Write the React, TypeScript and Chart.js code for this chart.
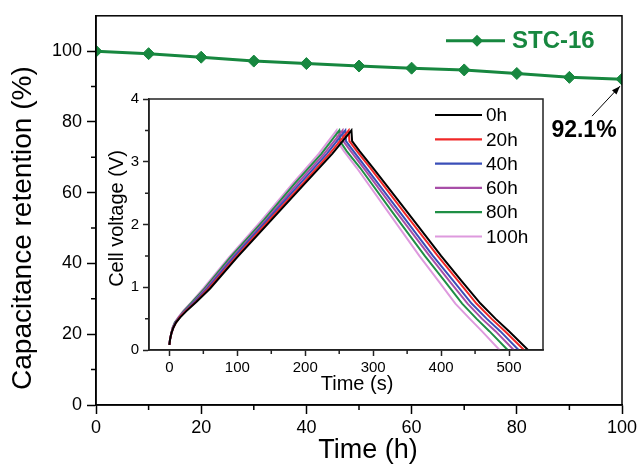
import React, { useEffect, useRef } from 'react';
import { Chart, registerables } from 'chart.js';

Chart.register(...registerables);

const FONT = '"Liberation Sans", Arial, Helvetica, sans-serif';

// ---- main chart data ----
const retentionHours = [0, 10, 20, 30, 40, 50, 60, 70, 80, 90, 100];
const retentionValues = [100, 99.3, 98.3, 97.2, 96.5, 95.8, 95.2, 94.7, 93.7, 92.6, 92.1];
const retentionLabel = 'STC-16';
const mainMinorX = [10, 30, 50, 70, 90];
const mainMinorY = [10, 30, 50, 70, 90];

// ---- inset data ----
const curveLabels = ['0h', '20h', '40h', '60h', '80h', '100h'];
const curveColors = ['#000000', '#f02828', '#3a4fb8', '#a84ea8', '#1f8f45', '#de9ade'];
const chargeVoltage = [0.08, 0.17, 0.27, 0.36, 0.44, 0.52, 0.62, 0.77, 0.98, 1.48, 2.07, 2.66, 3.13, 3.5];
const dischargeVoltage = [3.33, 3.17, 2.9, 2.2, 1.5, 1.1, 0.74, 0.5, 0.3, 0];

const chargeTime0h = [0, 1, 3, 6, 10, 16, 25, 40, 60, 100, 150, 200, 240, 268];
const chargeTime20h = [0, 1, 3, 6, 10, 15, 24, 39, 58, 98, 147, 197, 236, 264];
const chargeTime40h = [0, 1, 3, 6, 9, 15, 23, 37, 56, 95, 144, 193, 232, 259];
const chargeTime60h = [0, 1, 3, 5, 9, 14, 22, 36, 54, 93, 142, 189, 228, 255];
const chargeTime80h = [0, 1, 3, 5, 8, 14, 21, 34, 52, 90, 139, 185, 224, 250];
const chargeTime100h = [0, 1, 3, 5, 8, 13, 20, 33, 50, 88, 136, 182, 220, 246];

const dischargeTime0h = [269, 280, 300, 350, 400, 430, 458, 480, 500, 528];
const dischargeTime20h = [265, 276, 296, 345, 395, 425, 452, 474, 494, 522];
const dischargeTime40h = [260, 271, 290, 339, 388, 418, 445, 467, 487, 514];
const dischargeTime60h = [256, 267, 286, 334, 383, 412, 439, 460, 480, 507];
const dischargeTime80h = [251, 261, 281, 328, 376, 405, 431, 452, 471, 498];
const dischargeTime100h = [247, 257, 276, 322, 368, 396, 421, 442, 460, 486];

const chargeTimes = [chargeTime0h, chargeTime20h, chargeTime40h, chargeTime60h, chargeTime80h, chargeTime100h];
const dischargeTimes = [dischargeTime0h, dischargeTime20h, dischargeTime40h, dischargeTime60h, dischargeTime80h, dischargeTime100h];
const insetMinorX = [50, 150, 250, 350, 450];
const insetMinorY = [0.5, 1.5, 2.5, 3.5];

const GREEN = '#17873f';

function MainChart() {
  const ref = useRef<HTMLCanvasElement>(null);
  useEffect(() => {
    if (!ref.current) return;
    const overlay = {
      id: 'mainOverlay',
      afterDraw(chart: any) {
        const { ctx, chartArea: a, scales } = chart;
        const xs = scales.x;
        const ys = scales.y;
        ctx.save();
        ctx.strokeStyle = '#000';
        ctx.lineWidth = 1.5;
        ctx.strokeRect(a.left, a.top, a.right - a.left, a.bottom - a.top);
        ctx.beginPath();
        mainMinorX.forEach((v) => {
          const px = xs.getPixelForValue(v);
          ctx.moveTo(px, a.bottom);
          ctx.lineTo(px, a.bottom + 5);
        });
        mainMinorY.forEach((v) => {
          const py = ys.getPixelForValue(v);
          ctx.moveTo(a.left, py);
          ctx.lineTo(a.left - 5, py);
        });
        ctx.stroke();

        // axis titles
        ctx.fillStyle = '#000';
        ctx.textAlign = 'center';
        ctx.textBaseline = 'middle';
        ctx.font = `27px ${FONT}`;
        ctx.fillText('Time (h)', (a.left + a.right) / 2 + 9, a.bottom + 46);
        ctx.save();
        ctx.translate(a.left - 73, ys.getPixelForValue(50));
        ctx.rotate(-Math.PI / 2);
        ctx.font = `28px ${FONT}`;
        ctx.fillText('Capacitance retention (%)', 0, 0);
        ctx.restore();

        // legend
        const ly = a.top + 25;
        ctx.strokeStyle = GREEN;
        ctx.lineWidth = 3;
        ctx.beginPath();
        ctx.moveTo(a.right - 176, ly);
        ctx.lineTo(a.right - 117, ly);
        ctx.stroke();
        const dx = a.right - 145;
        ctx.fillStyle = GREEN;
        ctx.beginPath();
        ctx.moveTo(dx - 6, ly);
        ctx.lineTo(dx, ly - 6);
        ctx.lineTo(dx + 6, ly);
        ctx.lineTo(dx, ly + 6);
        ctx.closePath();
        ctx.fill();
        ctx.textAlign = 'left';
        ctx.font = `bold 24px ${FONT}`;
        ctx.fillText(retentionLabel, a.right - 110, ly + 1);

        // annotation for last point
        const meta = chart.getDatasetMeta(0);
        const last = meta.data[meta.data.length - 1];
        const px = last.x;
        const py = last.y;
        const hx = px - 2, hy = py + 7;
        const tx = px - 30, ty = py + 37;
        ctx.strokeStyle = '#000';
        ctx.lineWidth = 1;
        ctx.beginPath();
        ctx.moveTo(tx, ty);
        ctx.lineTo(hx, hy);
        ctx.stroke();
        const ang = Math.atan2(hy - ty, hx - tx);
        ctx.fillStyle = '#000';
        ctx.beginPath();
        ctx.moveTo(hx, hy);
        ctx.lineTo(hx - 9 * Math.cos(ang - 0.35), hy - 9 * Math.sin(ang - 0.35));
        ctx.lineTo(hx - 9 * Math.cos(ang + 0.35), hy - 9 * Math.sin(ang + 0.35));
        ctx.closePath();
        ctx.fill();
        ctx.textAlign = 'center';
        ctx.font = `bold 23px ${FONT}`;
        ctx.fillText(`${retentionValues[retentionValues.length - 1]}%`, px - 38, py + 52);
        ctx.restore();
      },
    };
    const chart = new Chart(ref.current, {
      type: 'line',
      data: {
        datasets: [
          {
            label: retentionLabel,
            data: retentionHours.map((h, i) => ({ x: h, y: retentionValues[i] })),
            borderColor: GREEN,
            backgroundColor: GREEN,
            borderWidth: 3,
            pointStyle: 'rectRot',
            pointRadius: 6,
            pointBorderWidth: 1,
            tension: 0,
          },
        ],
      },
      options: {
        responsive: false,
        animation: false,
        events: [],
        layout: { padding: { left: 0, top: 13, right: 19, bottom: 0 } },
        plugins: { legend: { display: false }, tooltip: { enabled: false } },
        scales: {
          x: {
            type: 'linear',
            min: 0,
            max: 100,
            ticks: { stepSize: 20, color: '#000', font: { size: 18, family: FONT }, padding: 3, maxRotation: 0 },
            grid: { drawOnChartArea: false, tickLength: 9, tickColor: '#000', tickWidth: 1.5 },
            border: { color: '#000', width: 1.5 },
            afterFit: (s: any) => { s.height = 65; },
          },
          y: {
            type: 'linear',
            min: 0,
            max: 110,
            ticks: { stepSize: 20, includeBounds: false, color: '#000', font: { size: 18, family: FONT }, padding: 5 },
            grid: { drawOnChartArea: false, tickLength: 9, tickColor: '#000', tickWidth: 1.5 },
            border: { color: '#000', width: 1.5 },
            afterFit: (s: any) => { s.width = 96; },
          },
        },
      } as any,
      plugins: [overlay],
    });
    return () => chart.destroy();
  }, []);
  return <canvas ref={ref} width={641} height={470} style={{ position: 'absolute', left: 0, top: 0 }} />;
}

function InsetChart() {
  const ref = useRef<HTMLCanvasElement>(null);
  useEffect(() => {
    if (!ref.current) return;
    const overlay = {
      id: 'insetOverlay',
      afterDraw(chart: any) {
        const { ctx, chartArea: a, scales } = chart;
        const xs = scales.x;
        const ys = scales.y;
        ctx.save();
        ctx.strokeStyle = '#222';
        ctx.lineWidth = 1.5;
        ctx.strokeRect(a.left, a.top, a.right - a.left, a.bottom - a.top);
        ctx.beginPath();
        insetMinorX.forEach((v) => {
          const px = xs.getPixelForValue(v);
          ctx.moveTo(px, a.bottom);
          ctx.lineTo(px, a.bottom + 4);
        });
        insetMinorY.forEach((v) => {
          const py = ys.getPixelForValue(v);
          ctx.moveTo(a.left, py);
          ctx.lineTo(a.left - 4, py);
        });
        ctx.stroke();

        ctx.fillStyle = '#000';
        ctx.textAlign = 'center';
        ctx.textBaseline = 'middle';
        ctx.font = `20px ${FONT}`;
        ctx.fillText('Time (s)', (a.left + a.right) / 2 + 11, a.bottom + 34);
        ctx.save();
        ctx.translate(a.left - 32, (a.top + a.bottom) / 2 - 6);
        ctx.rotate(-Math.PI / 2);
        ctx.fillText('Cell voltage (V)', 0, 0);
        ctx.restore();

        // legend
        ctx.textAlign = 'left';
        ctx.font = `19px ${FONT}`;
        curveLabels.forEach((lab, i) => {
          const y = a.top + 16 + i * 24.3;
          ctx.strokeStyle = curveColors[i];
          ctx.lineWidth = 2.2;
          ctx.beginPath();
          ctx.moveTo(a.right - 108, y);
          ctx.lineTo(a.right - 61, y);
          ctx.stroke();
          ctx.fillStyle = '#000';
          ctx.fillText(lab, a.right - 57, y + 1);
        });
        ctx.restore();
      },
    };
    const datasets = curveLabels.map((lab, i) => ({
      label: lab,
      data: [
        ...chargeTimes[i].map((t, j) => ({ x: t, y: chargeVoltage[j] })),
        ...dischargeTimes[i].map((t, j) => ({ x: t, y: dischargeVoltage[j] })),
      ],
      borderColor: curveColors[i],
      backgroundColor: curveColors[i],
      borderWidth: 2,
      pointRadius: 0,
      tension: 0,
    }));
    const chart = new Chart(ref.current, {
      type: 'line',
      data: { datasets },
      options: {
        responsive: false,
        animation: false,
        events: [],
        layout: { padding: { left: 0, top: 14, right: 17, bottom: 0 } },
        plugins: { legend: { display: false }, tooltip: { enabled: false } },
        scales: {
          x: {
            type: 'linear',
            min: -30,
            max: 550,
            ticks: { stepSize: 100, includeBounds: false, color: '#000', font: { size: 15, family: FONT }, padding: 3, maxRotation: 0 },
            grid: { drawOnChartArea: false, tickLength: 6, tickColor: '#222', tickWidth: 1.5 },
            border: { color: '#222', width: 1.5 },
            afterFit: (s: any) => { s.height = 50; },
          },
          y: {
            type: 'linear',
            min: 0,
            max: 4,
            ticks: { stepSize: 1, color: '#000', font: { size: 15, family: FONT }, padding: 4 },
            grid: { drawOnChartArea: false, tickLength: 6, tickColor: '#222', tickWidth: 1.5 },
            border: { color: '#222', width: 1.5 },
            afterFit: (s: any) => { s.width = 54; },
          },
        },
      } as any,
      plugins: [overlay],
    });
    return () => chart.destroy();
  }, []);
  return <canvas ref={ref} width={465} height={315} style={{ position: 'absolute', left: 95, top: 85 }} />;
}

export default function App() {
  return (
    <div style={{ position: 'fixed', left: 0, top: 0, width: 641, height: 470, background: '#fff', overflow: 'hidden' }}>
      <MainChart />
      <InsetChart />
    </div>
  );
}
